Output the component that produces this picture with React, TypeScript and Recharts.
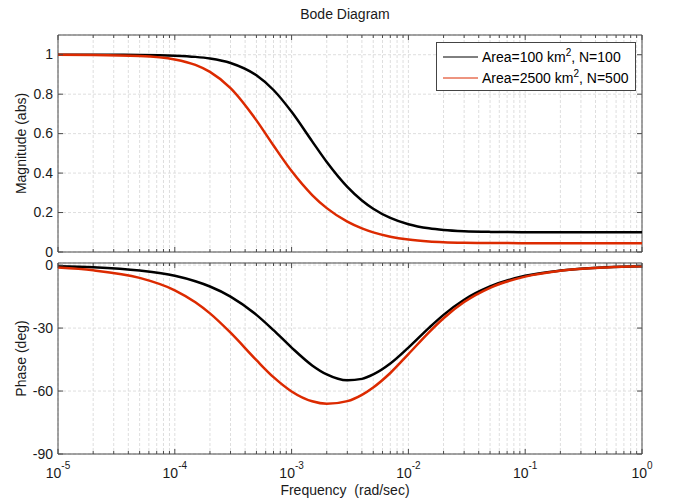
import React from 'react';
import { LineChart, Line, XAxis, YAxis, CartesianGrid, ReferenceArea, Legend } from 'recharts';

// ---------- data ----------
const frequencies = [
  1e-5, 2e-5, 5e-5, 1e-4, 1.5e-4, 2e-4, 3e-4, 5e-4, 7e-4, 1e-3, 1.5e-3, 2e-3, 3e-3,
  4e-3, 5e-3, 7e-3, 1e-2, 1.5e-2, 2e-2, 3e-2, 5e-2, 1e-1, 2e-1, 5e-1, 1,
];
const magArea100 = [
  1.0, 0.9998, 0.9988, 0.9951, 0.9891, 0.9808, 0.9583, 0.8955, 0.8212, 0.7106, 0.5609, 0.4561, 0.3302,
  0.2612, 0.2193, 0.1726, 0.1407, 0.1199, 0.1117, 0.1054, 0.102, 0.1005, 0.1001, 0.1, 0.1,
];
const magArea2500 = [
  0.9998, 0.999, 0.9938, 0.9759, 0.9482, 0.913, 0.8307, 0.6673, 0.5395, 0.4101, 0.2888, 0.2224, 0.1539,
  0.1196, 0.0995, 0.0778, 0.0632, 0.0537, 0.05, 0.0471, 0.0456, 0.0449, 0.0448, 0.0447, 0.0447,
];
const phaseArea100 = [
  -0.5, -1.0, -2.6, -5.1, -7.7, -10.2, -15.0, -23.7, -31.0, -39.3, -47.8, -52.1, -54.9,
  -54.2, -52.1, -46.9, -39.3, -29.9, -23.7, -16.5, -10.2, -5.1, -2.6, -1.0, -0.5,
];
const phaseArea2500 = [
  -1.2, -2.5, -6.1, -12.0, -17.7, -23.0, -32.2, -45.3, -53.4, -60.2, -64.9, -66.1, -64.8,
  -61.8, -58.3, -51.4, -42.4, -32.0, -25.3, -17.6, -10.8, -5.5, -2.7, -1.1, -0.6,
];
const seriesAreas = [100, 2500];
const seriesN = [100, 500];
const seriesColors = ['#000000', '#dc2a00'];

const majorFreqTicks = [1e-5, 1e-4, 1e-3, 1e-2, 1e-1, 1];
const majorTickExponents = ['-5', '-4', '-3', '-2', '-1', '0'];
const minorMultipliers = [2, 3, 4, 5, 6, 7, 8, 9];
const magTicks = [0, 0.2, 0.4, 0.6, 0.8, 1];
const magTickLabels = ['0', '0.2', '0.4', '0.6', '0.8', '1'];
const phaseTicks = [-90, -60, -30, 0];
const phaseTickLabels = ['-90', '-60', '-30', '0'];

// ---------- derived tables ----------
const allFreqTicks: number[] = [];
majorFreqTicks.forEach((m, i) => {
  allFreqTicks.push(m);
  if (i < majorFreqTicks.length - 1) minorMultipliers.forEach((k) => allFreqTicks.push(k * m));
});

const data = frequencies.map((f, i) => ({
  f,
  mag0: magArea100[i],
  mag1: magArea2500[i],
  ph0: phaseArea100[i],
  ph1: phaseArea2500[i],
}));

// ---------- layout / style ----------
const W = 678;
const PL = 58;
const PR = 642;
const TOP_H = 262;
const TOP_PT = 35;
const TOP_PB = 252;
const BOT_OFF = 253;
const BOT_H = 249;
const BOT_PT = 10;
const BOT_PB = 201;
const AXIS = '#4a4a4a';
const GRID = '#dedede';
const TEXT = '#1a1a1a';
const FONT = "'Liberation Sans', Arial, Helvetica, sans-serif";

const majorIndex = (v: number) => majorFreqTicks.findIndex((m) => Math.abs(m - v) / m < 1e-6);

const makeXTick = (pt: number, pb: number, showLabel: boolean) => (props: any) => {
  const { x, payload } = props;
  const mi = majorIndex(payload.value);
  const len = mi >= 0 ? 5 : 3;
  return (
    <g>
      <line x1={x} x2={x} y1={pb} y2={pb - len} stroke={AXIS} strokeWidth={1} />
      <line x1={x} x2={x} y1={pt} y2={pt + len} stroke={AXIS} strokeWidth={1} />
      {showLabel && mi >= 0 && (
        <text x={x} y={pb + 23.5} textAnchor="middle" fontSize={14} fill={TEXT} fontFamily={FONT}>
          <tspan>10</tspan>
          <tspan dy={-9} fontSize={10}>
            {majorTickExponents[mi]}
          </tspan>
        </text>
      )}
    </g>
  );
};

const makeYTick = (ticks: number[], labels: string[]) => (props: any) => {
  const { y, payload } = props;
  const idx = ticks.indexOf(payload.value);
  return (
    <g>
      <line x1={PL} x2={PL + 5} y1={y} y2={y} stroke={AXIS} strokeWidth={1} />
      <line x1={PR - 5} x2={PR} y1={y} y2={y} stroke={AXIS} strokeWidth={1} />
      <text x={PL - 5} y={y} dy="0.34em" textAnchor="end" fontSize={14} fill={TEXT} fontFamily={FONT}>
        {idx >= 0 ? labels[idx] : ''}
      </text>
    </g>
  );
};

const renderLegend = (props: any) => {
  const payload = props.payload || [];
  return (
    <div
      style={{
        border: '1px solid #444',
        background: '#fff',
        padding: '4px 0 2px 6px',
        boxSizing: 'border-box',
        width: 200,
        height: 49,
        fontFamily: FONT,
        fontSize: 14,
        color: '#000',
      }}
    >
      {payload.map((p: any, i: number) => {
        const idx = p.dataKey === 'mag1' ? 1 : 0;
        return (
          <div key={i} style={{ display: 'flex', alignItems: 'center', height: 20.5, whiteSpace: 'nowrap' }}>
            <svg width={35} height={4} style={{ display: 'block' }}>
              <line x1={0} x2={35} y1={2} y2={2} stroke={seriesColors[idx]} strokeWidth={1} />
            </svg>
            <span style={{ marginLeft: 4 }}>
              Area={seriesAreas[idx]} km<sup style={{ fontSize: 10, lineHeight: 0 }}>2</sup>, N={seriesN[idx]}
            </span>
          </div>
        );
      })}
    </div>
  );
};

export default function App() {
  return (
    <div style={{ position: 'absolute', left: 0, top: 0, width: W, height: 502, background: '#fff' }}>
      <div style={{ position: 'absolute', left: 0, top: 0 }}>
        <LineChart width={W} height={TOP_H} data={data} margin={{ top: TOP_PT, right: W - PR, bottom: 0, left: 8 }}>
          <CartesianGrid stroke={GRID} strokeDasharray="3 2" />
          <XAxis
            dataKey="f"
            type="number"
            scale="log"
            domain={[1e-5, 1]}
            ticks={allFreqTicks}
            interval={0}
            allowDataOverflow
            height={TOP_H - TOP_PB}
            tickLine={false}
            axisLine={false}
            tickSize={0}
            tick={makeXTick(TOP_PT, TOP_PB, false)}
          />
          <YAxis
            type="number"
            domain={[0, 1.1]}
            ticks={magTicks}
            interval={0}
            allowDataOverflow
            width={50}
            tickLine={false}
            axisLine={false}
            tickSize={0}
            tick={makeYTick(magTicks, magTickLabels)}
          />
          <ReferenceArea x1={1e-5} x2={1} y1={0} y2={1.1} fill="none" stroke={AXIS} strokeWidth={1} ifOverflow="visible" />
          <Line
            type="monotone"
            dataKey="mag0"
            name={`Area=${seriesAreas[0]} km2, N=${seriesN[0]}`}
            stroke={seriesColors[0]}
            strokeWidth={2.5}
            dot={false}
            isAnimationActive={false}
          />
          <Line
            type="monotone"
            dataKey="mag1"
            name={`Area=${seriesAreas[1]} km2, N=${seriesN[1]}`}
            stroke={seriesColors[1]}
            strokeWidth={2.5}
            dot={false}
            isAnimationActive={false}
          />
          <Legend
            layout="horizontal"
            verticalAlign="middle"
            align="center"
            content={renderLegend}
            wrapperStyle={{ left: 436, top: 42, width: 200, height: 49 }}
          />
        </LineChart>
      </div>
      <div style={{ position: 'absolute', left: 0, top: BOT_OFF }}>
        <LineChart width={W} height={BOT_H} data={data} margin={{ top: BOT_PT, right: W - PR, bottom: 0, left: 8 }}>
          <CartesianGrid stroke={GRID} strokeDasharray="3 2" />
          <XAxis
            dataKey="f"
            type="number"
            scale="log"
            domain={[1e-5, 1]}
            ticks={allFreqTicks}
            interval={0}
            allowDataOverflow
            height={BOT_H - BOT_PB}
            tickLine={false}
            axisLine={false}
            tickSize={0}
            tick={makeXTick(BOT_PT, BOT_PB, true)}
          />
          <YAxis
            type="number"
            domain={[-90, 1]}
            ticks={phaseTicks}
            interval={0}
            allowDataOverflow
            width={50}
            tickLine={false}
            axisLine={false}
            tickSize={0}
            tick={makeYTick(phaseTicks, phaseTickLabels)}
          />
          <ReferenceArea x1={1e-5} x2={1} y1={-90} y2={1} fill="none" stroke={AXIS} strokeWidth={1} ifOverflow="visible" />
          <Line type="monotone" dataKey="ph0" stroke={seriesColors[0]} strokeWidth={2.5} dot={false} isAnimationActive={false} />
          <Line type="monotone" dataKey="ph1" stroke={seriesColors[1]} strokeWidth={2.5} dot={false} isAnimationActive={false} />
        </LineChart>
      </div>
      <svg
        width={W}
        height={502}
        style={{ position: 'absolute', left: 0, top: 0, pointerEvents: 'none' }}
      >
        <text x={345} y={18.5} textAnchor="middle" fontSize={14} fill={TEXT} fontFamily={FONT}>
          Bode Diagram
        </text>
        <text x={345} y={495} textAnchor="middle" fontSize={14} fill={TEXT} fontFamily={FONT} style={{ whiteSpace: 'pre' }}>
          {'Frequency  (rad/sec)'}
        </text>
        <text
          x={26}
          y={143.5}
          textAnchor="middle"
          fontSize={14}
          fill={TEXT}
          fontFamily={FONT}
          transform="rotate(-90 26 143.5)"
        >
          Magnitude (abs)
        </text>
        <text
          x={26}
          y={358.5}
          textAnchor="middle"
          fontSize={14}
          fill={TEXT}
          fontFamily={FONT}
          transform="rotate(-90 26 358.5)"
        >
          Phase (deg)
        </text>
      </svg>
    </div>
  );
}
